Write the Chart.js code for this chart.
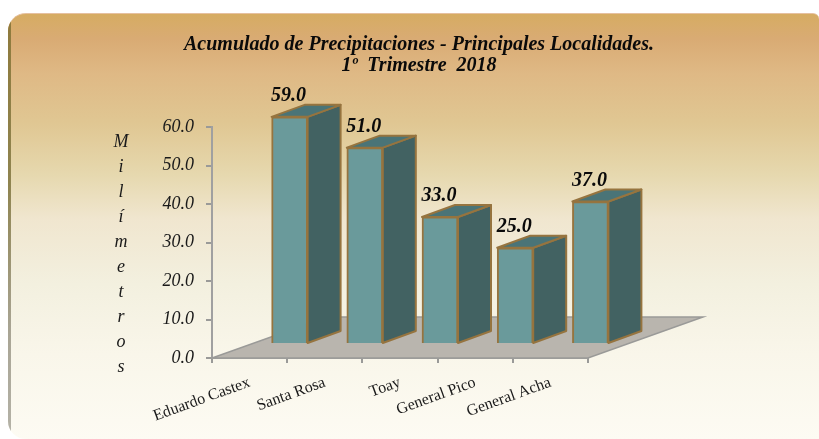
<!DOCTYPE html>
<html>
<head>
<meta charset="utf-8">
<script src="https://cdn.jsdelivr.net/npm/chart.js@4"></script>
<style>
html, body { margin: 0; padding: 0; background: #fff; overflow: hidden; }
#panel {
    position: absolute; left: 8px; top: 13px; width: 811px; height: 426px;
    box-sizing: border-box;
    border-radius: 18px 6px 0 18px;
    border-top: 1px solid #e6c0a0;
    overflow: hidden;
    background: linear-gradient(180deg, #d6ac62 0px, #d9ab74 25px, #dfb985 60px, #e0c793 110px, #e6d8ae 160px, #f0e6cf 205px, #f3f0df 270px, #f9f6ea 340px, #fdfbf3 426px);
}
#edge {
    position: absolute; left: 0; top: 0; width: 3px; height: 100%;
    background: linear-gradient(180deg, #8f7a3c 0%, #8f8450 40%, #a9a595 75%, #b5b3a8 100%);
}
#wrap { position: absolute; left: 0; top: 0; width: 819px; height: 439px; }
</style>
</head>
<body>
<div id="panel"><div id="edge"></div></div>
<div id="wrap"><canvas id="rainChart" width="819" height="439"></canvas></div>
<script>
// Acumulado de precipitaciones, 1er trimestre 2018
var localidades = ["Eduardo Castex", "Santa Rosa", "Toay", "General Pico", "General Acha"];
var milimetros = [59.0, 51.0, 33.0, 25.0, 37.0];
var tituloEje = "Milímetros";
var titulo = ["Acumulado de Precipitaciones - Principales Localidades.", "1º  Trimestre  2018"];

var SERIF = "'Liberation Serif', serif";

// fake 3D: how far the bar sits back on the floor, and how deep it is
var frontX = 40, frontY = -14;
var sideX = 33, sideY = -12;
var floorX = 115, floorY = -41;

var fake3d = {
    id: "fake3d",
    beforeDatasetsDraw: function(chart) {
        var ctx = chart.ctx, a = chart.chartArea;
        // floor
        ctx.save();
        ctx.beginPath();
        ctx.moveTo(a.left, a.bottom);
        ctx.lineTo(a.right, a.bottom);
        ctx.lineTo(a.right + floorX, a.bottom + floorY);
        ctx.lineTo(a.left + floorX, a.bottom + floorY);
        ctx.closePath();
        ctx.fillStyle = "#b9b5ae";
        ctx.fill();
        ctx.strokeStyle = "#9a9a98";
        ctx.lineWidth = 1.5;
        ctx.stroke();
        ctx.restore();

        // sides and tops, taken from the bar elements
        var bars = chart.getDatasetMeta(0).data;
        ctx.save();
        ctx.translate(frontX, frontY);
        ctx.strokeStyle = "#96743f";
        ctx.lineWidth = 2;
        ctx.lineJoin = "round";
        bars.forEach(function(b) {
            var l = b.x - b.width / 2, r = b.x + b.width / 2;
            ctx.beginPath();
            ctx.moveTo(r, b.y);
            ctx.lineTo(r + sideX, b.y + sideY);
            ctx.lineTo(r + sideX, b.base + sideY);
            ctx.lineTo(r, b.base);
            ctx.closePath();
            ctx.fillStyle = "#426262";
            ctx.fill();
            ctx.stroke();
            ctx.beginPath();
            ctx.moveTo(l, b.y);
            ctx.lineTo(l + sideX, b.y + sideY);
            ctx.lineTo(r + sideX, b.y + sideY);
            ctx.lineTo(r, b.y);
            ctx.closePath();
            ctx.fillStyle = "#4a7477";
            ctx.fill();
            ctx.stroke();
        });
        // bar fronts get drawn by chart.js on top of this
    },
    afterDatasetsDraw: function(chart) {
        var ctx = chart.ctx;
        ctx.restore();

        // value labels
        var bars = chart.getDatasetMeta(0).data;
        ctx.save();
        ctx.fillStyle = "#0a0a0a";
        ctx.font = "italic bold 20px " + SERIF;
        ctx.textAlign = "center";
        ctx.textBaseline = "alphabetic";
        bars.forEach(function(b, i) {
            ctx.fillText(milimetros[i].toFixed(1), b.x + frontX - 1, b.y + frontY - 16);
        });

        // axis title, one letter per line
        ctx.font = "italic 18px " + SERIF;
        ctx.fillStyle = "#1a1a1a";
        tituloEje.split("").forEach(function(letra, i) {
            ctx.fillText(letra, 121, 147 + i * 25);
        });
        ctx.restore();
    }
};

var rainChart = new Chart("rainChart", {
    type: "bar",
    data: {
        labels: localidades,
        datasets: [{
            data: milimetros,
            backgroundColor: "#6a9a9b",
            borderColor: "#96743f",
            borderWidth: 2,
            barThickness: 36
        }]
    },
    options: {
        responsive: false,
        animation: false,
        layout: { padding: { left: 19, top: 34, bottom: 0 } },
        plugins: {
            legend: { display: false },
            tooltip: { enabled: false },
            title: {
                display: true,
                text: titulo,
                color: "#0a0a0a",
                font: { family: SERIF, size: 20, style: "italic", weight: "bold", lineHeight: 1.05 },
                padding: { top: 0, bottom: 51 }
            }
        },
        scales: {
            x: {
                grid: { drawOnChartArea: false, color: "#9a9a98", lineWidth: 2, tickLength: 5 },
                border: { color: "#a0a0a0", width: 2 },
                ticks: {
                    color: "#1a1a1a",
                    font: { family: SERIF, size: 16 },
                    minRotation: 20,
                    maxRotation: 20,
                    autoSkip: false,
                    padding: 10
                },
                afterFit: function(s) { s.height = 81; }
            },
            y: {
                min: 0,
                max: 60,
                grid: { drawOnChartArea: false, color: "#9a9a98", lineWidth: 2, tickLength: 6 },
                border: { color: "#a0a0a0", width: 2 },
                ticks: {
                    stepSize: 10,
                    color: "#1a1a1a",
                    font: { family: SERIF, size: 18, style: "italic" },
                    padding: 12,
                    callback: function(v) { return v.toFixed(1); }
                },
                afterFit: function(s) { s.width = 193; }
            },
            // empty axis, only keeps the plot clear of the right side
            derecha: {
                position: "right",
                grid: { display: false },
                border: { display: false },
                ticks: { display: false },
                afterFit: function(s) { s.width = 231; }
            }
        }
    },
    plugins: [fake3d]
});
</script>
</body>
</html>
